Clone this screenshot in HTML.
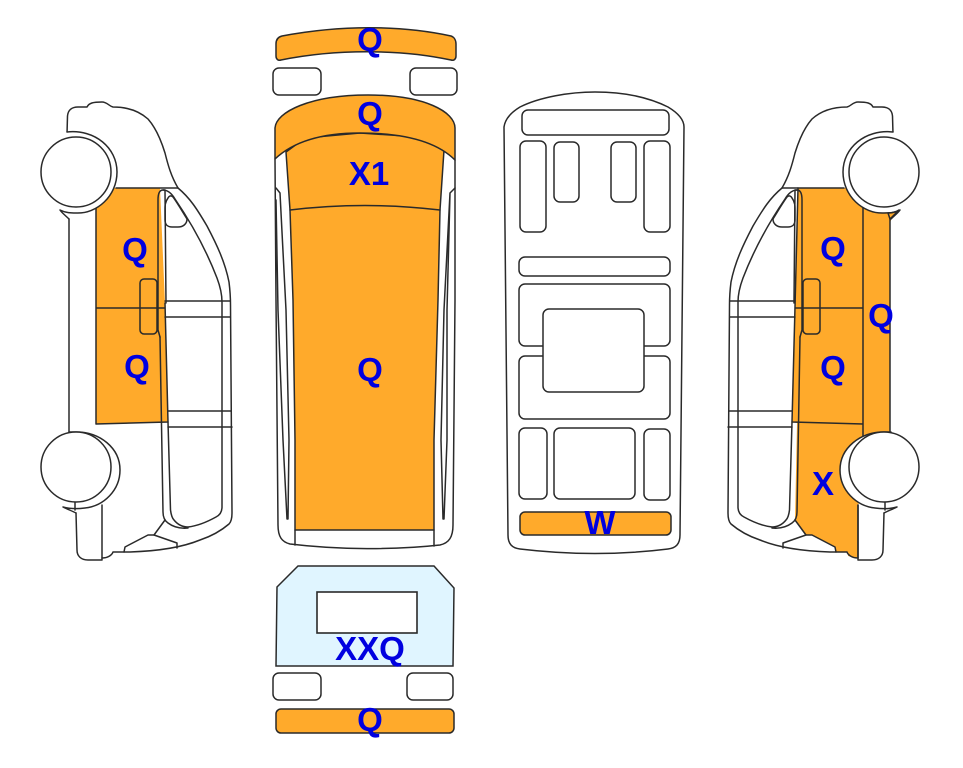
<!DOCTYPE html>
<html>
<head>
<meta charset="utf-8">
<style>
html,body{margin:0;padding:0;background:#fff;width:963px;height:768px;overflow:hidden}
svg{display:block}
.l{fill:none;stroke:#2a2a2a;stroke-width:1.5;stroke-linejoin:round;stroke-linecap:round}
.w{fill:#fff;stroke:#2a2a2a;stroke-width:1.5;stroke-linejoin:round}
.o{fill:#ffaa2b;stroke:#2a2a2a;stroke-width:1.5;stroke-linejoin:round}
.f{fill:#ffaa2b;stroke:none}
text{font-family:"Liberation Sans",sans-serif;font-weight:bold;font-size:33px;fill:#0000e0;text-anchor:middle}
</style>
</head>
<body>
<svg width="963" height="768" viewBox="0 0 963 768" xmlns="http://www.w3.org/2000/svg">
<defs>
<g id="vanbase">
  <path class="l" d="M67,134 L67.500,116 C68,110 72,107 78,107 L87,107 C89,103 93,102 102,102 C107,102 109,106 113,107 C125,107 138,110 148,119 C156,128 161,140 165,153 C168,165 171,176 178,188"/>
  <path class="l" d="M178,188 C190,198 197,209 207,226 C217,245 225,262 229,282 C230,290 230.500,296 230.500,305 L232,513 C232,519 231,522 229,524 C222,530 212,536 200,540 C183,547 160,551 130,552 L113,552 C112,555 108,558 102,558 L102,560 L88,560 C81,560 77,556 77,550 L76,513"/>
  <path class="l" d="M163,190 C168,190 172,194 175,199 C192,224 207,252 217,278 C220,286 222,293 222,302 L222,507 C222,512 220,515 216,517 C207,522 197,526 188,527 C183,527 178,525 174,520 C172,518 171,514 170.500,510 L168,422"/>
  <path class="l" d="M160,337 L158,330 L158,200 C158,195 159,190 163,190 L165,190 L166,303"/>
  <path class="l" d="M160,337 L163,512 C163,518 165,521 168,523 C172,526 178,529 188,528"/>
  <path class="l" d="M165,520 L154,535 L177,543 L177,548"/>
  <path class="l" d="M154,535 L148,535 L125,547 L124,552"/>
  <path class="l" d="M168,198 C165,202 165,206 165,210 L165,220 C165,225 168,227 172,227 L178,227 C183,227 187,224 187,219 C182,211 178,204 173,197 C171,195 169,196 168,198 Z"/>
  <path class="l" d="M165,301 L230,301 M165,317 L230,317 M168,411 L231,411 M168,427 L232,427"/>
  <path class="l" d="M116,188 L178,188"/>
  <path class="l" d="M102,505 L102,558"/>
</g>
<g id="arches">
  <path d="M67,132 C95,129 117,148 117,172 C117,196 97,214 76,213 C71,213 66,213 60,210 C62,213 66,216 69,219 L69,432 L76,432 C100,432 120,448 120,470 C120,490 104,506 85,508 C78,509 70,509 63,507 C67,509 72,511 76,513 L40,513 L40,132 Z" fill="#fff" stroke="none"/>
  <path class="l" d="M67,132 C95,129 117,148 117,172 C117,196 97,214 76,213 C71,213 66,213 60,210 C62,213 66,216 69,219"/>
  <path class="l" d="M69,432 L76,432 C100,432 120,448 120,470 C120,490 104,506 85,508 C78,509 70,509 63,507 C67,509 72,511 76,513"/>
  <path class="l" d="M75,502 L75,510"/>
  <circle class="w" cx="76" cy="172" r="35"/>
  <circle class="w" cx="76" cy="467" r="35"/>
</g>
</defs>

<!-- left van -->
<path class="f" d="M96,188 L160,188 L165,303 L168,422 L96,424 Z"/>
<use href="#vanbase"/>
<path class="l" d="M96,205 L96,424 L168,422 M96,308 L165,308 M165,303 L168,422"/>
<rect class="l" x="140" y="279" width="17" height="55" rx="4"/>
<use href="#arches"/>
<path class="l" d="M69,219 L69,432"/>

<!-- right van -->
<path class="f" d="M798,188 L860,188 L890,200 L890,219 L899,210 L890,222 L890,431 L858,505 L858,558 L848,556 L848,552 L836,552 L835,547 L812,535 L806,535 L795,520 L797,423 L792,422 L795,307 Z"/>
<g transform="translate(960,0) scale(-1,1)"><use href="#vanbase"/></g>
<path class="l" d="M798,188 L795,307 L792,422 M795,308 L863,308 M792,422 L863,424 M863,200 L863,440 M890,219 L890,431 M858,505 L858,558"/>
<rect class="l" x="803" y="279" width="17" height="55" rx="4"/>
<g transform="translate(960,0) scale(-1,1)"><use href="#arches"/></g>
<path class="o" d="M890,219 L899,210 C896,212 893,213 888,213 Z"/>

<!-- front view -->
<path class="o" d="M276,44 C276,40 278,37 282,36 C340,25 400,25 451,36 C454,37 456,40 456,44 L456,56 C456,59 454,61 451,60 C400,49 335,49 281,60 C278,61 276,59 276,56 Z"/>
<rect class="w" x="273" y="68" width="48" height="27" rx="6"/>
<rect class="w" x="410" y="68" width="47" height="27" rx="6"/>

<!-- roof/top view -->
<path class="l" d="M275,159 L276,300 L278,525 C278,537 282,542 290,544 C340,550 395,550 440,545 C449,543 453,537 453,525 L455,300 L455,160"/>
<path class="l" d="M276,188 L280,193 L286,310 L289,440 L288,519 L287,519 L283,440 L278,310 L276,200"/>
<path class="l" d="M455,188 L450,193 L447,310 L447,440 L444,519 L443,519 L441,440 L444,310 L450,193"/>
<path class="o" d="M286,152 L290,210 L293,300 L295,440 L295,530 L434,530 L434,440 L438,300 L440,210 L444,150 L420,137 L360,133 L305,138 Z"/>
<path class="l" d="M290,210 C340,204 390,204 440,210"/>
<path class="o" d="M275,128 C276,112 310,95 368,95 C425,95 455,112 455,128 L455,160 C435,140 400,133 360,133 C325,133 295,140 275,159 Z"/>
<path class="l" d="M295,530 L295,545 M434,530 L434,546"/>

<!-- rear view -->
<path d="M277,587 L298,566 L434,566 L454,588 L453,666 L276,666 Z" fill="#e0f5ff" stroke="#2a2a2a" stroke-width="1.5"/>
<rect x="317" y="592" width="100" height="41" fill="#fff" stroke="#2a2a2a" stroke-width="1.6"/>
<rect class="w" x="273" y="673" width="48" height="27" rx="6"/>
<rect class="w" x="407" y="673" width="46" height="27" rx="6"/>
<rect class="o" x="276" y="709" width="178" height="24" rx="5"/>

<!-- interior view -->
<path class="l" d="M504,127 C505,120 510,113 520,107 C540,97 570,92 595,92 C625,92 650,98 668,107 C678,113 684,120 684,127 L680,535 C680,544 676,548 668,549 C620,555 570,555 520,549 C512,548 508,544 508,535 Z"/>
<rect class="l" x="522" y="110" width="147" height="25" rx="6"/>
<rect class="l" x="520" y="141" width="26" height="91" rx="6"/>
<rect class="l" x="554" y="142" width="25" height="60" rx="6"/>
<rect class="l" x="611" y="142" width="25" height="60" rx="6"/>
<rect class="l" x="644" y="141" width="26" height="91" rx="6"/>
<rect class="l" x="519" y="257" width="151" height="19" rx="6"/>
<rect class="l" x="519" y="284" width="151" height="62" rx="6"/>
<rect class="l" x="519" y="356" width="151" height="63" rx="6"/>
<rect class="w" x="543" y="309" width="101" height="83" rx="6"/>
<rect class="l" x="519" y="428" width="28" height="71" rx="6"/>
<rect class="l" x="554" y="428" width="81" height="71" rx="6"/>
<rect class="l" x="644" y="429" width="26" height="71" rx="6"/>
<rect class="o" x="520" y="512" width="151" height="23" rx="5"/>

<!-- labels -->
<text x="135" y="261">Q</text>
<text x="137" y="378">Q</text>
<text x="370" y="51">Q</text>
<text x="370" y="125">Q</text>
<text x="369" y="185">X1</text>
<text x="370" y="381">Q</text>
<text x="370" y="660">XXQ</text>
<text x="370" y="731">Q</text>
<text x="600" y="534">W</text>
<text x="833" y="260">Q</text>
<text x="833" y="379">Q</text>
<text x="881" y="327">Q</text>
<text x="823" y="495">X</text>
</svg>
</body>
</html>
